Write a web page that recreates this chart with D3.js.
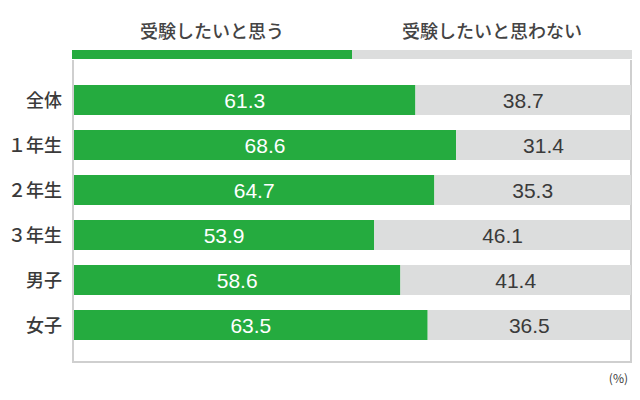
<!DOCTYPE html>
<html><head><meta charset="utf-8">
<script src="https://cdn.jsdelivr.net/npm/d3@7"></script>
<style>body{margin:0;background:#fff;}svg{display:block;}</style>
</head><body>
<script>
const categories = ["全体","１年生","２年生","３年生","男子","女子"];
const yesValues = [61.3, 68.6, 64.7, 53.9, 58.6, 63.5];
const noValues = [38.7, 31.4, 35.3, 46.1, 41.4, 36.5];
const seriesNames = ["受験したいと思う","受験したいと思わない"];
const unitLabel = "(%)";

const W = 640, H = 400;
const green = "#25ab3f", gray = "#dcdddd";
const font = "'Noto Sans CJK JP','Noto Sans',sans-serif";
const numFont = "'Liberation Sans',Arial,sans-serif";
const svg = d3.select("body").append("svg").attr("width", W).attr("height", H);

const x = d3.scaleLinear().domain([0, 100]).range([74, 631]);
const y = d3.scaleBand().domain(categories).range([77.5, 347.5]).paddingInner(1/3).paddingOuter(1/6);

// legend bar
const lx = d3.scaleLinear().domain([0, 100]).range([72, 632]);
svg.append("rect").attr("x", lx(0)).attr("y", 50).attr("width", lx(50)-lx(0)).attr("height", 9).attr("fill", green);
svg.append("rect").attr("x", lx(50)).attr("y", 50).attr("width", lx(100)-lx(50)).attr("height", 9).attr("fill", gray);
svg.selectAll("text.leg").data(seriesNames).join("text").attr("class","leg")
  .attr("x", (d,i) => i===0 ? (lx(0)+lx(50))/2 : (lx(50)+lx(100))/2)
  .attr("y", 38).attr("text-anchor","middle")
  .attr("font-family", font).attr("font-size", 18).attr("font-weight", 500).attr("fill", "#444")
  .text(d => d);

// frame
svg.append("path").attr("d", "M73,60 V362 H631 V60").attr("fill","none").attr("stroke","#cfcfcf").attr("stroke-width",2);

const rows = categories.map((c,i) => ({c, yes: yesValues[i], no: noValues[i]}));
const g = svg.append("g");
g.selectAll("rect.yes").data(rows).join("rect").attr("class","yes")
  .attr("x", x(0)).attr("y", d => y(d.c)).attr("width", d => x(d.yes)-x(0)).attr("height", y.bandwidth()).attr("fill", green);
g.selectAll("rect.no").data(rows).join("rect").attr("class","no")
  .attr("x", d => x(d.yes)).attr("y", d => y(d.c)).attr("width", d => x(100)-x(d.yes)).attr("height", y.bandwidth()).attr("fill", gray);
g.selectAll("text.vy").data(rows).join("text").attr("class","vy")
  .attr("x", d => (x(0)+x(d.yes))/2).attr("y", d => y(d.c)+y.bandwidth()/2+7.5)
  .attr("text-anchor","middle").attr("font-family",numFont).attr("font-size",21).attr("font-weight",400)
  .attr("fill","#fff").text(d => d.yes.toFixed(1));
g.selectAll("text.vn").data(rows).join("text").attr("class","vn")
  .attr("x", d => (x(d.yes)+x(100))/2).attr("y", d => y(d.c)+y.bandwidth()/2+7.5)
  .attr("text-anchor","middle").attr("font-family",numFont).attr("font-size",21).attr("font-weight",400)
  .attr("fill","#3a3a3a").text(d => d.no.toFixed(1));
g.selectAll("text.cat").data(rows).join("text").attr("class","cat")
  .attr("x", 62).attr("y", d => y(d.c)+y.bandwidth()/2+6.5)
  .attr("text-anchor","end").attr("font-family",font).attr("font-size",18).attr("font-weight",500)
  .attr("fill","#3a3a3a").text(d => d.c);

svg.append("text").attr("x", 628).attr("y", 383).attr("text-anchor","end")
  .attr("font-family",font).attr("font-size",12).attr("fill","#3a3a3a").text(unitLabel);
</script>
</body></html>
